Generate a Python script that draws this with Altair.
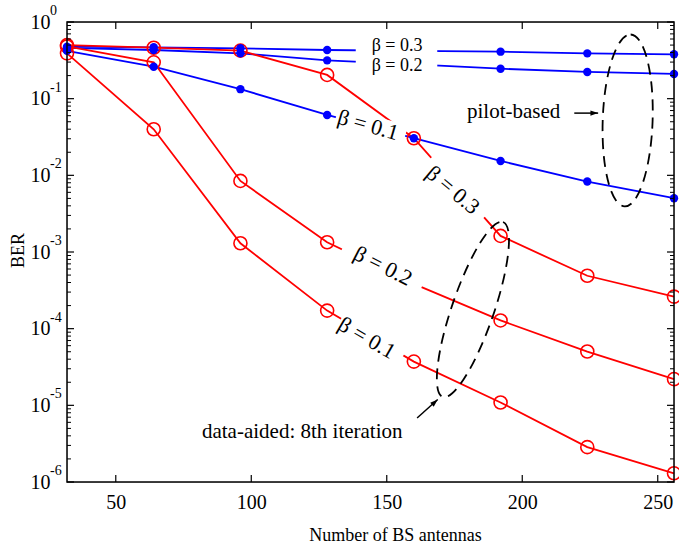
import math
import altair as alt
import pandas as pd

# ---------------- data ----------------
antennas = [32, 64, 96, 128, 160, 192, 224, 256]
pilot_b03 = [0.477, 0.468, 0.454, 0.431, 0.42, 0.41, 0.39, 0.379]
pilot_b02 = [0.46, 0.431, 0.39, 0.316, 0.28, 0.246, 0.223, 0.21]
pilot_b01 = [0.42, 0.261, 0.133, 0.0613, 0.0305, 0.0154, 0.0083, 0.00503]
data_b03 = [0.50, 0.462, 0.423, 0.204, 0.0305, 0.00162, 0.00049, 0.000262]
data_b02 = [0.48, 0.298, 0.00845, 0.00134, 0.000384, 0.000128, 5.03e-5, 2.2e-5]
data_b01 = [0.39, 0.0399, 0.0013, 0.000172, 3.72e-5, 1.09e-5, 2.85e-6, 1.3e-6]

series_names = ["pilot_b03", "pilot_b02", "pilot_b01", "data_b03", "data_b02", "data_b01"]
series_values = [pilot_b03, pilot_b02, pilot_b01, data_b03, data_b02, data_b01]
series_kind = ["pilot", "pilot", "pilot", "data", "data", "data"]
hidden_markers = [("pilot_b03", 160), ("pilot_b02", 160), ("data_b02", 160)]

x_ticks = [50, 100, 150, 200, 250]
y_decades = [1, 1e-1, 1e-2, 1e-3, 1e-4, 1e-5, 1e-6]
y_exponents = ["0", "-1", "-2", "-3", "-4", "-5", "-6"]
y_minor = [m * 10.0 ** e for e in range(-6, 0) for m in range(2, 10)]

# curve labels
label_text = ["β = 0.3", "β = 0.2", "β = 0.1", "β = 0.3", "β = 0.2", "β = 0.1"]
label_x = [153.8, 153.8, 143.1, 174.4, 148.6, 142.7]
label_y = [0.487, 0.266, 0.0454, 0.00644, 6.57e-4, 7.55e-5]
label_angle = [0, 0, 16, 40, 27, 30]

# line gaps behind rotated labels: (series, seg start, t start, seg end, t end, width)
gaps = [
    (pilot_b03, 3, 0.33, 4, 0.27, 14),
    (pilot_b02, 3, 0.33, 4, 0.27, 14),
    (pilot_b01, 3, 0.10, 3, 0.90, 22),
    (data_b03, 4, 0.20, 4, 0.81, 18),
    (data_b02, 3, 0.17, 4, 0.09, 20),
    (data_b01, 3, 0.16, 3, 0.88, 20),
]

BLUE = "#0000ff"
RED = "#ff0000"
FONT = "Liberation Serif"
W, H = 607, 460

# ---------------- tables ----------------
rows = []
for name, vals, kind in zip(series_names, series_values, series_kind):
    for x, y in zip(antennas, vals):
        rows.append(dict(series=name, kind=kind, x=x, y=y,
                         marker=(name, x) not in hidden_markers))
df = pd.DataFrame(rows)


def along(vals, i, t):
    x = antennas[i] + t * (antennas[i + 1] - antennas[i])
    ly = math.log10(vals[i]) + t * (math.log10(vals[i + 1]) - math.log10(vals[i]))
    return x, 10 ** ly


gap_rows = []
for vals, i0, t0, i1, t1, w in gaps:
    xa, ya = along(vals, i0, t0)
    xb, yb = along(vals, i1, t1)
    gap_rows.append(dict(x=xa, y=ya, x2=xb, y2=yb, w=w))
gap_df = pd.DataFrame(gap_rows)

labels_df = pd.DataFrame(dict(text=label_text, x=label_x, y=label_y, angle=label_angle))

xs = alt.Scale(domain=[32, 256], nice=False, zero=False)
ys = alt.Scale(type="log", domain=[1e-6, 1], nice=False)

x_axis = alt.Axis(values=x_ticks, title="Number of BS antennas", grid=False,
                  ticks=False, domain=False, labelFont=FONT, labelFontSize=20,
                  labelColor="black", labelPadding=10, labelFlush=False,
                  titleFont=FONT, titleFontSize=18, titleFontWeight="normal",
                  titleColor="black", titleX=328, titleY=53,
                  titleBaseline="middle")
y_axis = alt.Axis(values=y_decades, labelExpr="'10'", title="BER", grid=False,
                  ticks=False, domain=False, labelFont=FONT, labelFontSize=20,
                  labelColor="black", labelPadding=17, labelBaseline="middle",
                  titleFont=FONT, titleFontSize=18, titleFontWeight="normal",
                  titleColor="black", titleX=-49, titleY=228, titleAngle=-90,
                  titleBaseline="middle", titleAlign="center")

X = lambda f="x": alt.X(f"{f}:Q", scale=xs, axis=x_axis)
Y = lambda f="y": alt.Y(f"{f}:Q", scale=ys, axis=y_axis)

base = alt.Chart(df)

frame = alt.Chart(pd.DataFrame(dict(x=[32], y=[1]))).mark_rect(
    fill=None, stroke="black", strokeWidth=1.5
).encode(x=alt.value(0), x2=alt.value(W), y=alt.value(0), y2=alt.value(H))

lines = base.mark_line(strokeWidth=1.8).encode(
    x=X(), y=Y(), detail="series:N",
    color=alt.Color("kind:N", scale=alt.Scale(domain=["pilot", "data"], range=[BLUE, RED]),
                    legend=None),
)

covers = alt.Chart(gap_df).mark_rule(color="white", strokeCap="butt").encode(
    x=X(), y=Y(), x2="x2:Q", y2="y2:Q",
    strokeWidth=alt.StrokeWidth("w:Q", scale=None),
)

red_marks = base.transform_filter("datum.kind == 'data' && datum.marker").mark_point(
    shape="circle", filled=False, color=RED, size=170, strokeWidth=1.6, opacity=1
).encode(x=X(), y=Y())

blue_marks = base.transform_filter("datum.kind == 'pilot' && datum.marker").mark_point(
    shape="circle", filled=True, color=BLUE, size=70, opacity=1
).encode(x=X(), y=Y())

# dashed ellipses grouping the curves
ell_df = pd.DataFrame(dict(x=[238.9], y=[0.052], which=["pilot"]))
ell2_df = pd.DataFrame(dict(x=[181.8], y=[1.78e-4], which=["data"]))


def ellipse_path(a):
    k = 0.5523
    return (f"M0,-1C{a*k:.4f},-1 {a:.4f},{-k} {a:.4f},0"
            f"C{a:.4f},{k} {a*k:.4f},1 0,1"
            f"C{-a*k:.4f},1 {-a:.4f},{k} {-a:.4f},0"
            f"C{-a:.4f},{-k} {-a*k:.4f},-1 0,-1Z")


ell1 = alt.Chart(ell_df).mark_point(
    shape=ellipse_path(0.29), size=172 ** 2, filled=False, color="black",
    strokeWidth=1.8, strokeDash=[11, 7], opacity=1, angle=2
).encode(x=X(), y=Y())

ell2 = alt.Chart(ell2_df).mark_point(
    shape=ellipse_path(0.227), size=185 ** 2, filled=False, color="black",
    strokeWidth=1.8, strokeDash=[11, 7], opacity=1, angle=19
).encode(x=X(), y=Y())

# annotations
ann_text = ["pilot-based", "data-aided: 8th iteration"]
ann_x = [179.6, 81.8]
ann_y = [0.067, 4.49e-6]
ann_df = pd.DataFrame(dict(text=ann_text, x=ann_x, y=ann_y))
ann = alt.Chart(ann_df).mark_text(font=FONT, fontSize=21, align="left",
                                  baseline="middle", color="black").encode(
    x=X(), y=Y(), text="text:N")

arrow_x = [219.2, 161.2]
arrow_y = [0.0648, 6.84e-6]
arrow_x2 = [228.0, 168.8]
arrow_y2 = [0.0648, 1.19e-5]
arrow_angle = [90, 48]
arrow_df = pd.DataFrame(dict(x=arrow_x, y=arrow_y, x2=arrow_x2, y2=arrow_y2, angle=arrow_angle))
arrow_shafts = alt.Chart(arrow_df).mark_rule(color="black", strokeWidth=1.5).encode(
    x=X(), y=Y(), x2="x2:Q", y2="y2:Q")
arrow_heads = alt.Chart(arrow_df).mark_point(
    shape="M0,0L0.75,2.2L-0.75,2.2Z", size=49, filled=True, color="black", opacity=1
).encode(x=X("x2"), y=Y("y2"), angle=alt.Angle("angle:Q", scale=None))

flat_labels = alt.Chart(labels_df).transform_filter("datum.angle == 0").mark_text(
    font=FONT, fontSize=18, align="center", baseline="middle", color="black"
).encode(x=X(), y=Y(), text="text:N")

tilted_labels = alt.Chart(labels_df).transform_filter("datum.angle != 0").mark_text(
    font=FONT, fontSize=22, align="center", baseline="middle", color="black"
).encode(x=X(), y=Y(), text="text:N", angle=alt.Angle("angle:Q", scale=None))

# inward ticks
xt = pd.DataFrame(dict(x=x_ticks))
xt_bottom = alt.Chart(xt).mark_rule(color="black", strokeWidth=1.2).encode(
    x=X(), y=alt.value(H), y2=alt.value(H - 7))
xt_top = alt.Chart(xt).mark_rule(color="black", strokeWidth=1.2).encode(
    x=X(), y=alt.value(0), y2=alt.value(7))
yt = pd.DataFrame(dict(y=y_decades))
yt_left = alt.Chart(yt).mark_rule(color="black", strokeWidth=1.2).encode(
    y=Y(), x=alt.value(0), x2=alt.value(7))
yt_right = alt.Chart(yt).mark_rule(color="black", strokeWidth=1.2).encode(
    y=Y(), x=alt.value(W), x2=alt.value(W - 7))
ym = pd.DataFrame(dict(y=y_minor))
ym_left = alt.Chart(ym).mark_rule(color="black", strokeWidth=1).encode(
    y=Y(), x=alt.value(0), x2=alt.value(4))
ym_right = alt.Chart(ym).mark_rule(color="black", strokeWidth=1).encode(
    y=Y(), x=alt.value(W), x2=alt.value(W - 4))

exp_df = pd.DataFrame(dict(y=y_decades, exp=y_exponents))
exps = alt.Chart(exp_df).mark_text(font=FONT, fontSize=14, align="left",
                                   baseline="middle", dy=-11, color="black").encode(
    y=Y(), x=alt.value(-17), text="exp:N")

chart = alt.layer(
    lines, covers, red_marks, blue_marks, ell1, ell2, arrow_shafts, arrow_heads,
    ann, flat_labels, tilted_labels, xt_bottom, xt_top, yt_left, yt_right,
    ym_left, ym_right, exps, frame
).properties(
    width=W, height=H,
    autosize=alt.AutoSizeParams(type="none"),
    padding={"left": 67, "top": 22, "right": 5, "bottom": 66},
).configure_view(stroke=None).configure(background="white")

chart.save("out.html", embed_options={"renderer": "svg", "actions": False})
